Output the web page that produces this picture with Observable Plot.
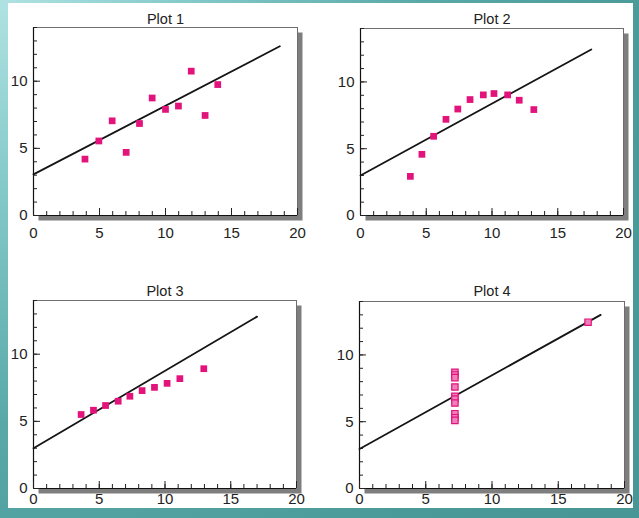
<!DOCTYPE html>
<html>
<head>
<meta charset="utf-8">
<script src="https://cdn.jsdelivr.net/npm/d3@7"></script>
<script src="https://cdn.jsdelivr.net/npm/@observablehq/plot@0.6"></script>
<style>
  html, body { margin: 0; padding: 0; }
  body {
    width: 639px; height: 518px; overflow: hidden; position: relative;
    background: radial-gradient(circle at 0 0, #b0e2e2 0px, #86caca 180px, #5aa9a9 420px, #4b9a9a 650px, #489696 800px);
    font-family: "Liberation Sans", Arial, sans-serif;
  }
  #panel { position: absolute; left: 8px; top: 3px; width: 625px; height: 505px; background: #fff; overflow: hidden; }
  .plot { position: absolute; }
</style>
</head>
<body>
<div id="panel"></div>
<script>
// ---- data ----
const titles = ["Plot 1", "Plot 2", "Plot 3", "Plot 4"];

const p1x = [3.9, 4.95, 5.96, 7.02, 8.03, 8.99, 10.0, 10.98, 11.95, 13.0, 13.96];
const p1y = [4.2, 5.55, 7.05, 4.7, 6.85, 8.75, 7.9, 8.15, 10.75, 7.45, 9.75];

const p2x = [3.79, 4.67, 5.56, 6.5, 7.4, 8.33, 9.34, 10.15, 11.19, 12.07, 13.18];
const p2y = [2.93, 4.58, 5.93, 7.2, 7.97, 8.68, 9.03, 9.13, 9.03, 8.63, 7.93];

const p3x = [3.62, 4.56, 5.48, 6.44, 7.33, 8.26, 9.2, 10.16, 11.13, 12.95];
const p3y = [5.51, 5.83, 6.18, 6.5, 6.87, 7.29, 7.53, 7.83, 8.18, 8.92];

const p4x = [7.2, 7.2, 7.2, 7.2, 7.2, 7.2, 7.2, 7.2, 7.2, 7.2, 17.25];
const p4y = [8.7, 8.5, 8.3, 7.6, 6.9, 6.7, 6.4, 5.6, 5.3, 5.1, 12.45];

// fitted line end points
const fitX = [[0, 18.66], [0, 17.55], [0, 17.0], [0, 18.2]];
const fitY = [[3.06, 12.6], [3.0, 12.43], [3.0, 12.8], [2.96, 13.0]];

const xDomain = [0, 20];
const yDomain = [0, 14];
const xMajor = [0, 5, 10, 15, 20];
const yMajor = [0, 5, 10];
const xMinor = d3.range(0, 21);
const yMinor = d3.range(0, 15);

// ---- layout (page pixels) ----
const layout = [
  {left: 0,   top: 0,   width: 320, height: 245, ml: 33, mr: 23, mt: 27, mb: 30, tdy: -14, xpad: 12},
  {left: 320, top: 0,   width: 320, height: 245, ml: 40, mr: 17, mt: 28, mb: 30, tdy: -15, xpad: 12},
  {left: 0,   top: 260, width: 320, height: 258, ml: 33, mr: 24, mt: 40, mb: 30, tdy: -15, xpad: 5},
  {left: 320, top: 260, width: 320, height: 258, ml: 39, mr: 16, mt: 41, mb: 30, tdy: -16, xpad: 5}
];

const sets = [[p1x, p1y], [p2x, p2y], [p3x, p3y], [p4x, p4y]];
const PINK = "#e3137c";

const panel = document.getElementById("panel");

sets.forEach(([xs, ys], i) => {
  const L = layout[i];
  const pts = xs.map((x, j) => ({x, y: ys[j]}));
  const fit = fitX[i].map((x, j) => ({x, y: fitY[i][j]}));
  const hollow = i === 3;

  const chart = Plot.plot({
    width: L.width,
    height: L.height,
    marginLeft: L.ml, marginRight: L.mr, marginTop: L.mt, marginBottom: L.mb,
    style: {fontFamily: "'Liberation Sans', Arial, sans-serif", fontSize: "15px", color: "#222", background: "transparent", overflow: "visible"},
    x: {domain: xDomain, nice: false},
    y: {domain: yDomain, nice: false},
    marks: [
      Plot.frame({fill: "#7e7e7e", stroke: "none", dx: 5, dy: 5}),
      Plot.frame({fill: "#fff", stroke: "#6e6e6e", strokeWidth: 1}),
      Plot.ruleX([0], {stroke: "#111", strokeWidth: 1.2}),
      Plot.ruleY([0], {stroke: "#111", strokeWidth: 1.2}),
      Plot.axisX({ticks: xMinor, tickSize: -4, tickFormat: () => "", label: null, stroke: "#222"}),
      Plot.axisX({ticks: xMajor, tickSize: -7, tickFormat: () => "", label: null, stroke: "#222"}),
      Plot.axisY({ticks: yMinor, tickSize: -4, tickFormat: () => "", label: null, stroke: "#222"}),
      Plot.axisY({ticks: yMajor, tickSize: -7, tickFormat: () => "", label: null, stroke: "#222"}),
      Plot.axisX({ticks: xMajor, tickSize: 0, tickPadding: L.xpad, label: null, fontSize: 15, fill: "#222"}),
      Plot.axisY({ticks: yMajor, tickSize: 0, tickPadding: 6, label: null, fontSize: 15, fill: "#222"}),
      Plot.line(fit, {x: "x", y: "y", stroke: "#151515", strokeWidth: 1.8}),
      hollow
        ? Plot.dot(pts, {x: "x", y: "y", symbol: "square", r: 3.6, fill: "#ee7fb8", stroke: PINK, strokeWidth: 1.2})
        : Plot.dot(pts, {x: "x", y: "y", symbol: "square", r: 3.8, fill: PINK, stroke: "none"}),
      Plot.text([titles[i]], {frameAnchor: "top", dy: L.tdy, fontSize: 14.5, fill: "#222"})
    ]
  });
  chart.classList.add("plot");
  chart.style.left = (L.left - 8) + "px";
  chart.style.top = (L.top - 3) + "px";
  panel.appendChild(chart);
});
</script>
</body>
</html>
